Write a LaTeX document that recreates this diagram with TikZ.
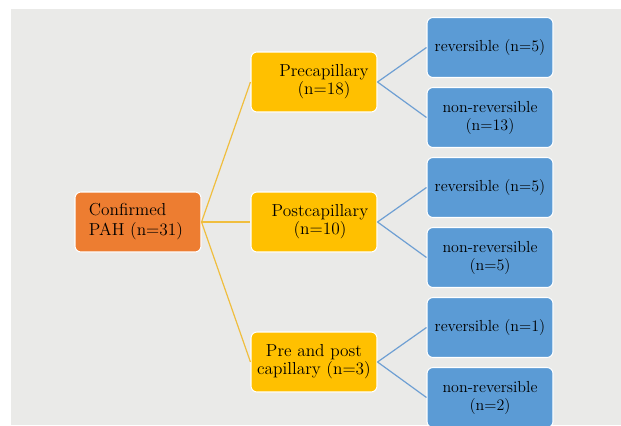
\documentclass[tikz,border=0pt]{standalone}
\usepackage{tikz}

\definecolor{bgGray}{HTML}{EAEAE8}
\definecolor{pahOrange}{HTML}{ED7D31}
\definecolor{capYellow}{HTML}{FFC000}
\definecolor{revBlue}{HTML}{5B9BD5}
\definecolor{goldLine}{HTML}{F0BE3E}
\definecolor{blueLine}{HTML}{6E9FD3}

\tikzset{
  box/.style={draw=white, line width=0.8pt, rounded corners=4.5pt,
    minimum width=94.5pt, minimum height=45pt, inner sep=0pt,
    align=center, font=\fontsize{13}{13.5}\selectfont},
  rootbox/.style={box, fill=pahOrange},
  capbox/.style={box, fill=capYellow},
  revbox/.style={box, fill=revBlue, font=\fontsize{12}{13.5}\selectfont},
  txt/.style={align=center, inner sep=0pt, font=\fontsize{13}{13.5}\selectfont},
  goldlink/.style={draw=goldLine, line width=0.9pt},
  bluelink/.style={draw=blueLine, line width=0.9pt}
}

\begin{document}
\begin{tikzpicture}[x=0.75pt,y=-0.75pt]
  \useasboundingbox (0,0) rectangle (621,425);
  \fill[bgGray] (11,9) rectangle (621,425);
  % root
  \node[rootbox, label={[txt,align=left,xshift=-1.5pt,font=\fontsize{13}{15}\selectfont]center:Confirmed\\PAH (n=31)}] (pah) at (138,222) {};
  % middle column
  \node[capbox, label={[txt,xshift=7.5pt]center:Precapillary\\(n=18)}] (pre) at (314,82) {};
  \node[capbox, label={[txt,xshift=4.5pt]center:Postcapillary\\(n=10)}] (post) at (314,222) {};
  \node[capbox] (both) at (314,362) {Pre and post\\capillary (n=3)};
  % right column
  \node[revbox] (preR) at (490,47.5) {reversible (n=5)};
  \node[revbox] (preN) at (490,117.5) {non-reversible\\(n=13)};
  \node[revbox] (postR) at (490,187.5) {reversible (n=5)};
  \node[revbox] (postN) at (490,257.5) {non-reversible\\(n=5)};
  \node[revbox] (bothR) at (490,327.5) {reversible (n=1)};
  \node[revbox] (bothN) at (490,397.5) {non-reversible\\(n=2)};
  % links
  \draw[goldlink] (pah.east) -- (pre.west);
  \draw[goldlink] (pah.east) -- (post.west);
  \draw[goldlink] (pah.east) -- (both.west);
  \draw[bluelink] (pre.east) -- (preR.west);
  \draw[bluelink] (pre.east) -- (preN.west);
  \draw[bluelink] (post.east) -- (postR.west);
  \draw[bluelink] (post.east) -- (postN.west);
  \draw[bluelink] (both.east) -- (bothR.west);
  \draw[bluelink] (both.east) -- (bothN.west);
\end{tikzpicture}
\end{document}
